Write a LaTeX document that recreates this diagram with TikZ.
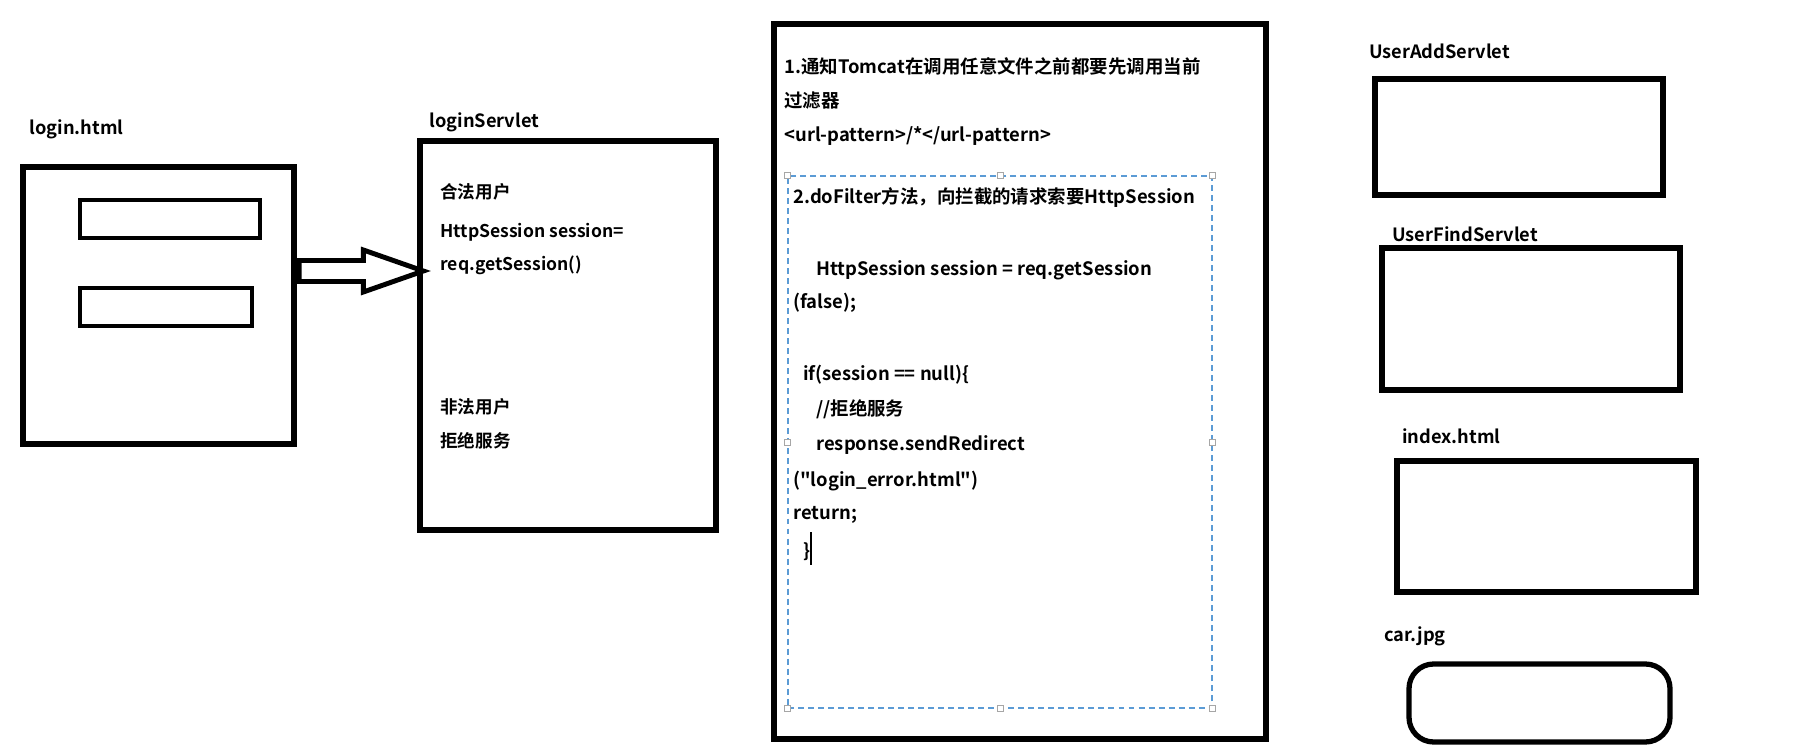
\documentclass[tikz,border=0pt]{standalone}
\usepackage{fontspec}
\setmainfont{Noto Sans CJK SC}[BoldFont={Noto Sans CJK SC Bold}, Ligatures=TeXOff]
\usetikzlibrary{fit,calc}
\definecolor{selblue}{RGB}{91,155,213}
\begin{document}
\begin{tikzpicture}[x=0.02cm, y=-0.02cm,
    frame/.style={draw, line width=3pt, inner sep=0pt},
    field/.style={draw, line width=2.6pt, inner sep=0pt},
    title/.style={anchor=west, inner sep=0pt, font=\bfseries\fontsize{10.4}{12}\selectfont},
    memo/.style={anchor=west, inner sep=0pt, font=\bfseries\fontsize{10}{12}\selectfont},
    code/.style={anchor=west, inner sep=0pt, font=\bfseries\fontsize{10.5}{12}\selectfont},
    handle/.style={draw=gray!70, fill=white, line width=0.5pt, minimum size=3.4pt, inner sep=0pt}]
  \useasboundingbox (0,0) rectangle (1807,749);
  % login page
  \node[title] (loginlbl) at (29,129) {login.html};
  \node[frame, fit={(23,167) (294,444)}] (login) {};
  \node[field, fit={(80,200) (260,238)}] (user) {};
  \node[field, fit={(80,288) (252,326)}] (pass) {};
  % login servlet
  \node[title] (servletlbl) at (429,122) {loginServlet};
  \node[frame, fit={(420,141) (716,530)}] (servlet) {};
  \node[memo] (legal) at (440,192) {合法用户};
  \node[memo] (sess) at (440,232) {HttpSession session=};
  \node[memo] (getsess) at (440,265) {req.getSession()};
  \node[memo] (illegal) at (440,407) {非法用户};
  \node[memo] (deny) at (440,441) {拒绝服务};
  \coordinate (arrS) at ($(login.east)+(2.5,-34.5)$);
  \coordinate (arrT) at ($(servlet.west)+(6,-64.5)$);
  \draw[line width=2.8pt, line join=miter]
    ($(arrS)+(0,-10.5)$) -- ($(arrT)+(-60,-10.5)$) -- ($(arrT)+(-60,-21)$) -- (arrT)
    -- ($(arrT)+(-60,21)$) -- ($(arrT)+(-60,10.5)$) -- ($(arrS)+(0,10.5)$) -- cycle;
  % filter
  \node[frame, fit={(774,24) (1266,739)}] (filter) {};
  \node[code] (f1) at (784,66) {1.通知Tomcat在调用任意文件之前都要先调用当前};
  \node[code] (f2) at (784,101) {过滤器};
  \node[code] (f3) at (784,136) {<url-pattern>/*</url-pattern>};
  \node[draw=selblue, dashed, dash pattern=on 3.4pt off 2.3pt, line width=0.7pt, inner sep=0pt,
    fit={(788,176) (1212,708)}] (sel) {};
  \foreach \a [count=\i] in {north west,north,north east,west,east,south west,south,south east}
    \node[handle] (h\i) at (sel.\a) {};
  \node[code] (c1) at (793,198) {2.doFilter方法，向拦截的请求索要HttpSession};
  \node[code] (c2) at (816,270) {HttpSession session = req.getSession};
  \node[code] (c3) at (793,303) {(false);};
  \node[code] (c4) at (803,375) {if(session == null)\{};
  \node[code] (c5) at (816,409) {//拒绝服务};
  \node[code] (c6) at (816,445) {response.sendRedirect};
  \node[code] (c7) at (793,481) {("login\_error.html")};
  \node[code] (c8) at (793,515) {return;};
  \node[code] (c9) at (803,552) {\}};
  \draw[line width=0.8pt] (811,532) -- (811,565);
  % other resources
  \node[title] (addlbl) at (1369,51) {UserAddServlet};
  \node[frame, fit={(1375,79) (1663,195)}] (add) {};
  \node[title] (findlbl) at (1392,234) {UserFindServlet};
  \node[frame, fit={(1382,248) (1680,390)}] (find) {};
  \node[title] (indexlbl) at (1402,436) {index.html};
  \node[frame, fit={(1397,461) (1696,592)}] (index) {};
  \node[title] (carlbl) at (1384,636) {car.jpg};
  \node[frame, rounded corners=14pt, fit={(1409,664) (1670,742)}] (car) {};
\end{tikzpicture}
\end{document}
